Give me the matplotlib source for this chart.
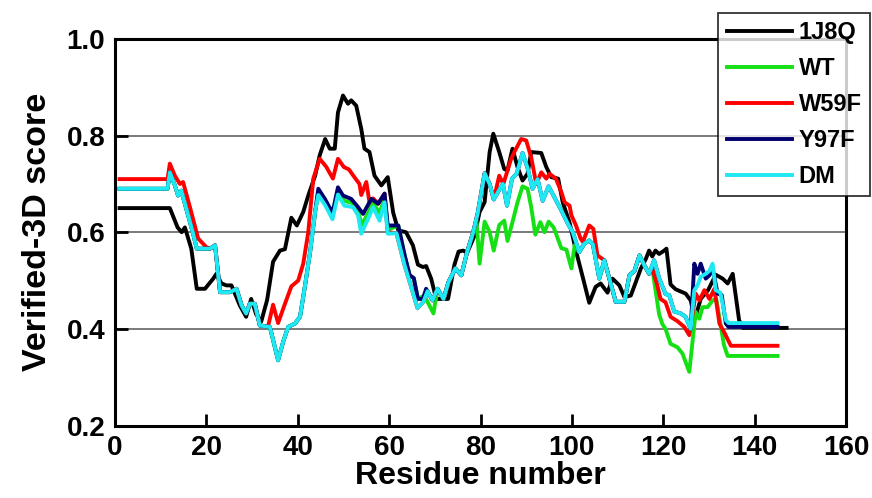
import matplotlib
matplotlib.use("Agg")
import matplotlib.pyplot as plt
from matplotlib import font_manager

# ---- data: Verify-3D profiles (residue, averaged 3D-1D score) ----
res_1j8q = [1, 12, 13.7, 14.6, 15.3, 16.7, 17.9, 19.7, 21.5, 22.2, 23.3, 24.4, 25.5,
            27.3, 28.7, 29.8, 30.9, 32, 33.3, 34.6, 36.1, 37.2, 38.6, 39.8, 41.2,
            42.3, 43.8, 44.8, 46, 47, 48.1, 48.8, 49.9, 51, 51.7, 52.8, 53.9, 54.6,
            55.7, 56.8, 58.3, 59.7, 60.9, 62, 63.7, 65.2, 66.3, 67.4, 68.1, 69.2,
            70.3, 72.9, 74.3, 75.2, 76.2, 77.1, 78.7, 79.8, 80.9, 82, 82.8, 84.1,
            85.2, 85.9, 87, 88.1, 89.2, 90.3, 91.1, 93.3, 94.4, 95.5, 97, 98, 99.5,
            100.8, 102.3, 103.8, 105.2, 106.3, 107.8, 108.9, 110.4, 111.5, 112.9,
            115.1, 116.2, 116.9, 117.6, 118.3, 119.1, 120.2, 120.7, 121.6, 122.7,
            124.9, 126, 126.9, 128.2, 129.8, 131.5, 133, 134.1, 135.2, 136.6,
            137.4, 147]
score_1j8q = [0.65, 0.65, 0.61, 0.60, 0.61, 0.566, 0.483, 0.483, 0.504, 0.514, 0.494,
              0.49, 0.49, 0.449, 0.425, 0.462, 0.43, 0.415, 0.46, 0.539, 0.562, 0.565,
              0.63, 0.614, 0.642, 0.676, 0.717, 0.759, 0.793, 0.773, 0.773, 0.848,
              0.883, 0.866, 0.873, 0.862, 0.814, 0.773, 0.766, 0.717, 0.697, 0.714,
              0.64, 0.604, 0.60, 0.573, 0.533, 0.528, 0.53, 0.504, 0.462, 0.462,
              0.533, 0.56, 0.562, 0.558, 0.593, 0.642, 0.662, 0.766, 0.804, 0.766,
              0.731, 0.728, 0.773, 0.735, 0.707, 0.721, 0.766, 0.764, 0.735, 0.714,
              0.711, 0.662, 0.62, 0.565, 0.51, 0.454, 0.487, 0.494, 0.475, 0.504,
              0.49, 0.466, 0.469, 0.525, 0.545, 0.562, 0.55, 0.562, 0.555, 0.562,
              0.566, 0.492, 0.482, 0.473, 0.459, 0.42, 0.462, 0.48, 0.512, 0.504,
              0.494, 0.514, 0.418, 0.402, 0.402]

res_wt = [1, 11.5, 12, 13.1, 13.8, 14.5, 16, 17.1, 17.9, 20.8, 21.9, 23, 25.2, 26.6,
          27.7, 28.7, 29.5, 30.6, 31.7, 33.9, 35.7, 36.8, 37.9, 39.4, 40.5, 41.6,
          42.7, 43.8, 44.5, 46, 47.6, 48.8, 50.2, 52.1, 53.2, 54, 55.4, 56.5, 57.9,
          59, 59.7, 62, 63.4, 64.5, 65.4, 66.3, 67.7, 69.7, 70.6, 71.9, 73, 74.5,
          75.8, 77.1, 78.4, 79.1, 79.8, 80.9, 82, 82.9, 84.1, 85.2, 85.9, 87, 88.1,
          89.2, 90.3, 91.1, 92, 93.1, 94, 94.9, 96, 97.7, 98.8, 99.9, 100.6, 101.6,
          102.7, 103.8, 104.6, 106, 107.1, 108.2, 109.6, 111.5, 112.6, 113.7, 114.8,
          115.9, 116.9, 117.6, 119.1, 119.8, 120.5, 121.6, 123.1, 124.2, 125.7,
          126.4, 127.1, 127.9, 128.6, 129.7, 130.8, 131.6, 133.3, 134.1, 145]
score_wt = [0.69, 0.69, 0.724, 0.697, 0.676, 0.686, 0.635, 0.597, 0.566, 0.566, 0.573,
            0.476, 0.476, 0.483, 0.449, 0.432, 0.452, 0.452, 0.407, 0.404, 0.335,
            0.373, 0.404, 0.411, 0.425, 0.49, 0.559, 0.642, 0.683, 0.662, 0.633,
            0.686, 0.665, 0.66, 0.643, 0.615, 0.64, 0.66, 0.64, 0.67, 0.605, 0.614,
            0.552, 0.511, 0.505, 0.462, 0.469, 0.432, 0.483, 0.462, 0.497, 0.525,
            0.511, 0.56, 0.60, 0.625, 0.535, 0.622, 0.60, 0.562, 0.615, 0.624, 0.582,
            0.621, 0.662, 0.695, 0.69, 0.652, 0.595, 0.621, 0.60, 0.622, 0.61, 0.567,
            0.564, 0.525, 0.573, 0.559, 0.576, 0.583, 0.575, 0.504, 0.542, 0.504,
            0.456, 0.456, 0.511, 0.52, 0.552, 0.531, 0.514, 0.525, 0.43, 0.41, 0.40,
            0.369, 0.362, 0.349, 0.311, 0.373, 0.435, 0.421, 0.445, 0.445, 0.459,
            0.462, 0.366, 0.344, 0.344]

res_w59f = [1, 11.5, 12, 13.1, 14.2, 14.9, 16.4, 18.2, 18.9, 20, 20.8, 21.9, 23, 25.2,
            26.6, 27.7, 28.7, 29.5, 30.6, 31.7, 33.5, 34.6, 35.7, 37.2, 38.6, 40.1,
            41.2, 42.3, 43.4, 44.8, 46.2, 47.7, 48.8, 50.1, 51.2, 52.4, 53.5, 53.9,
            55, 55.7, 56.5, 57.6, 59, 59.7, 61.6, 63.4, 64.5, 66.2, 67.5, 68.4, 69.5,
            70.6, 71.9, 73, 74.5, 75.8, 77.1, 78.4, 79.4, 80.9, 82, 82.9, 84.1, 85,
            86.7, 87.4, 88.9, 90, 91.1, 92.2, 93.3, 94.4, 95.1, 96.5, 97.7, 98.4,
            99.5, 99.9, 100.9, 101.9, 102.4, 103.8, 104.7, 105.6, 107.1, 108.2, 109.6,
            111.5, 112.6, 113.7, 114.8, 115.9, 116.9, 117.6, 118.7, 119.4, 120.5,
            121.6, 123.1, 124.6, 125.7, 127.1, 127.9, 129, 130.1, 131.2, 132.3,
            133.5, 134.8, 145]
score_w59f = [0.71, 0.71, 0.742, 0.717, 0.70, 0.704, 0.652, 0.587, 0.58, 0.569, 0.566,
              0.573, 0.476, 0.476, 0.483, 0.449, 0.432, 0.452, 0.452, 0.407, 0.405,
              0.45, 0.412, 0.452, 0.488, 0.50, 0.535, 0.60, 0.711, 0.752, 0.736, 0.711,
              0.752, 0.735, 0.73, 0.714, 0.70, 0.677, 0.704, 0.662, 0.67, 0.659, 0.68,
              0.60, 0.598, 0.531, 0.497, 0.443, 0.456, 0.478, 0.459, 0.483, 0.462,
              0.497, 0.525, 0.511, 0.56, 0.60, 0.64, 0.722, 0.70, 0.668, 0.717, 0.70,
              0.752, 0.766, 0.793, 0.79, 0.755, 0.70, 0.724, 0.711, 0.721, 0.711,
              0.683, 0.662, 0.655, 0.635, 0.614, 0.587, 0.58, 0.614, 0.607, 0.552,
              0.542, 0.504, 0.456, 0.456, 0.511, 0.52, 0.552, 0.531, 0.514, 0.525,
              0.49, 0.462, 0.455, 0.425, 0.416, 0.404, 0.387, 0.473, 0.459, 0.48,
              0.462, 0.483, 0.411, 0.39, 0.365, 0.365]

res_y97f = [1, 11.5, 12, 13.1, 13.8, 14.5, 16, 17.1, 17.9, 20.8, 21.9, 23, 25.2, 26.6,
            27.7, 28.7, 29.5, 30.6, 31.7, 33.9, 35.7, 36.8, 37.9, 39.4, 40.5, 41.6,
            42.7, 43.8, 44.5, 46, 47.6, 48.8, 49.9, 51.7, 53.2, 54.3, 56.1, 57.6, 59,
            59.7, 62, 63.4, 64.5, 65.4, 66.3, 67.4, 68.1, 69.5, 70.6, 71.9, 73, 74.5,
            75.8, 77.1, 78.4, 79.4, 80.9, 82, 82.9, 84, 84.9, 85.8, 86.9, 87.9, 89.2,
            90.3, 91.4, 92.5, 93.6, 94.9, 96.2, 97.7, 99.1, 100.2, 101.6, 102.7,
            103.8, 104.6, 106, 107.1, 108.2, 109.6, 111.5, 112.6, 113.7, 114.8, 115.9,
            116.9, 118, 119.1, 120.5, 121.3, 122.4, 123.8, 124.9, 126, 126.8, 127.5,
            128.2, 129.3, 130.1, 130.8, 131.9, 132.8, 133.7, 134.3, 145]
score_y97f = [0.69, 0.69, 0.724, 0.697, 0.676, 0.686, 0.635, 0.597, 0.566, 0.566,
              0.573, 0.476, 0.476, 0.483, 0.449, 0.432, 0.452, 0.452, 0.407, 0.404,
              0.335, 0.373, 0.404, 0.411, 0.425, 0.49, 0.559, 0.642, 0.69, 0.668, 0.64,
              0.693, 0.676, 0.669, 0.652, 0.638, 0.669, 0.659, 0.68, 0.614, 0.614,
              0.552, 0.511, 0.505, 0.462, 0.462, 0.483, 0.459, 0.483, 0.462, 0.497,
              0.525, 0.511, 0.56, 0.60, 0.64, 0.722, 0.70, 0.668, 0.686, 0.70, 0.655,
              0.711, 0.721, 0.764, 0.733, 0.69, 0.71, 0.665, 0.695, 0.672, 0.645,
              0.618, 0.60, 0.559, 0.576, 0.583, 0.575, 0.504, 0.542, 0.504, 0.456,
              0.456, 0.511, 0.52, 0.552, 0.531, 0.514, 0.542, 0.505, 0.472, 0.47,
              0.436, 0.432, 0.425, 0.40, 0.535, 0.514, 0.535, 0.504, 0.511, 0.525,
              0.473, 0.47, 0.411, 0.404, 0.404]

res_dm = [1, 11.5, 12, 13.1, 13.8, 14.5, 16, 17.1, 17.9, 20.8, 21.9, 23, 25.2, 26.6,
          27.7, 28.7, 29.5, 30.6, 31.7, 33.9, 35.7, 36.8, 37.9, 39.4, 40.5, 41.6,
          42.7, 43.8, 44.5, 46, 47.6, 48.8, 50.2, 52.1, 53.2, 53.9, 55.4, 56.5, 57.9,
          59, 59.7, 61.6, 63.4, 64.5, 66.2, 67.5, 68.4, 69.5, 70.6, 71.9, 73, 74.5,
          75.8, 77.1, 78.4, 79.4, 80.9, 82, 82.9, 84, 84.9, 85.8, 86.9, 87.9, 89.2,
          90.3, 91.4, 92.5, 93.6, 94.9, 96.2, 97.7, 99.1, 100.2, 101.6, 102.7, 103.8,
          104.6, 106, 107.1, 108.2, 109.6, 111.5, 112.6, 113.7, 114.8, 115.9, 116.9,
          118, 119.1, 120.5, 121.3, 122.4, 123.8, 124.9, 126, 126.8, 127.5, 128.2,
          129.3, 130.1, 130.8, 131.5, 132.5, 133.7, 134.3, 145]
score_dm = [0.69, 0.69, 0.724, 0.697, 0.676, 0.686, 0.635, 0.597, 0.566, 0.566, 0.573,
            0.476, 0.476, 0.483, 0.449, 0.432, 0.452, 0.452, 0.407, 0.404, 0.335,
            0.373, 0.404, 0.411, 0.425, 0.49, 0.559, 0.642, 0.677, 0.656, 0.627,
            0.678, 0.655, 0.652, 0.635, 0.597, 0.628, 0.652, 0.624, 0.662, 0.597,
            0.598, 0.531, 0.497, 0.443, 0.456, 0.478, 0.459, 0.483, 0.462, 0.497,
            0.525, 0.511, 0.56, 0.60, 0.64, 0.722, 0.70, 0.668, 0.686, 0.70, 0.655,
            0.711, 0.721, 0.764, 0.733, 0.69, 0.71, 0.665, 0.695, 0.672, 0.645,
            0.618, 0.60, 0.559, 0.576, 0.583, 0.575, 0.504, 0.542, 0.504, 0.456,
            0.456, 0.511, 0.52, 0.552, 0.531, 0.514, 0.542, 0.505, 0.472, 0.47,
            0.436, 0.432, 0.425, 0.40, 0.48, 0.49, 0.508, 0.514, 0.52, 0.535, 0.48,
            0.475, 0.418, 0.412, 0.412]

x_ticks = [0, 20, 40, 60, 80, 100, 120, 140, 160]
y_ticks = [0.2, 0.4, 0.6, 0.8, 1.0]
y_gridlines = [0.4, 0.6, 0.8]

# ---- font: condensed bold sans if present ----
names = {f.name for f in font_manager.fontManager.ttflist}
families = [n for n in ["Liberation Sans Narrow", "Arial Narrow", "Liberation Sans",
                        "DejaVu Sans"] if n in names]
plt.rcParams["font.family"] = families
plt.rcParams["font.weight"] = "bold"

fig = plt.figure(figsize=(8.72, 4.98), dpi=100)
ax = fig.add_axes([115 / 872, 1 - 425.5 / 498, 731 / 872, 386.5 / 498])

lw = 2.8
# plotting order: 1J8Q underneath, DM on top
ax.plot(res_1j8q, score_1j8q, color="#000000", lw=lw, label="1J8Q", zorder=3)
ax.plot(res_wt, score_wt, color="#14e014", lw=lw, label="WT", zorder=4)
ax.plot(res_w59f, score_w59f, color="#ff0000", lw=lw, label="W59F", zorder=5)
ax.plot(res_y97f, score_y97f, color="#00006e", lw=lw, label="Y97F", zorder=6)
ax.plot(res_dm, score_dm, color="#1ee8f2", lw=lw, label="DM", zorder=7)

for g in y_gridlines:
    ax.axhline(g, color="#707070", lw=1.3, zorder=1)

ax.set_xlim(0, 160)
ax.set_ylim(0.2, 1.0)
ax.set_xticks(x_ticks)
ax.set_yticks(y_ticks)
ax.set_yticklabels([f"{v:.1f}" for v in y_ticks])
ax.tick_params(direction="in", length=9, width=2, labelsize=20, pad=7)
for s in ax.spines.values():
    s.set_linewidth(2.2)

ax.set_xlabel("Residue number", fontsize=23, fontweight="bold", labelpad=0)
ax.set_ylabel("Verified-3D score", fontsize=24.5, fontweight="bold", labelpad=10)

leg = fig.legend(loc="upper right", bbox_to_anchor=(870 / 872, 1 - 13 / 498),
                 fontsize=17, frameon=True, fancybox=False, handlelength=2.75,
                 handletextpad=0.3, labelspacing=0.55, borderpad=0.35,
                 borderaxespad=0)
leg.get_frame().set_edgecolor("black")
leg.get_frame().set_linewidth(1.3)
for t in leg.get_texts():
    t.set_fontweight("bold")

fig.savefig("out.png", dpi=100)
